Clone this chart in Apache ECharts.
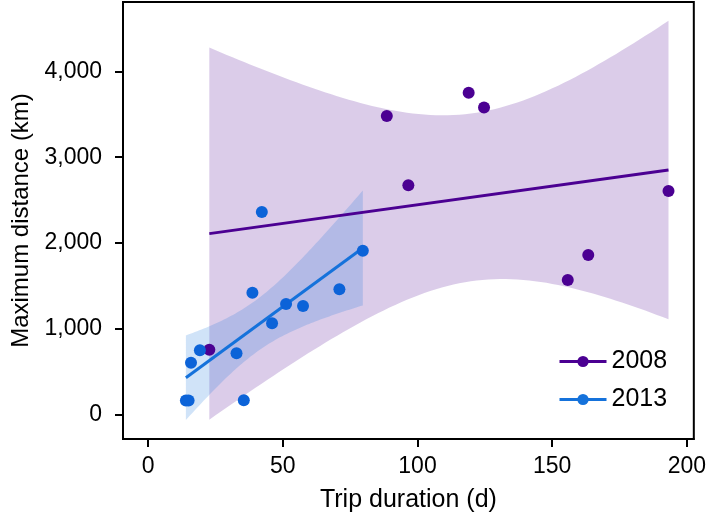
<!DOCTYPE html>
<html>
<head>
<meta charset="utf-8">
<script src="https://cdn.jsdelivr.net/npm/echarts@6/dist/echarts.min.js"></script>
<style>
  html, body { margin: 0; padding: 0; background: #fff; }
  #chart { width: 709px; height: 523px; }
</style>
</head>
<body>
<div id="chart"></div>
<script>
// ---- data ----
const seriesNames = ['2008', '2013'];
const dur2008 = [22.7, 88.6, 96.6, 119.0, 124.7, 155.8, 163.4, 193.2];
const dist2008 = [758, 3480, 2674, 3752, 3578, 1570, 1860, 2605];
const dur2013 = [14.0, 15.0, 15.9, 19.2, 32.8, 35.5, 38.7, 42.2, 46.0, 51.2, 57.5, 71.0, 79.7];
const dist2013 = [166, 166, 605, 752, 715, 168, 1420, 2362, 1066, 1291, 1267, 1461, 1909];
const xTicks = [0, 50, 100, 150, 200];
const yTicks = [0, 1000, 2000, 3000, 4000];
const xTitle = 'Trip duration (d)';
const yTitle = 'Maximum distance (km)';

// ---- linear fit with 95% confidence band (as geom_smooth(method = "lm")) ----
const T975 = {4: 2.7764, 5: 2.5706, 6: 2.4469, 7: 2.3646, 8: 2.3060, 9: 2.2622, 10: 2.2281, 11: 2.2010, 12: 2.1788, 13: 2.1604};
function lmFit(xs, ys) {
  const n = xs.length;
  const mx = xs.reduce((a, b) => a + b, 0) / n;
  const my = ys.reduce((a, b) => a + b, 0) / n;
  let sxx = 0, sxy = 0;
  for (let i = 0; i < n; i++) { sxx += (xs[i] - mx) ** 2; sxy += (xs[i] - mx) * (ys[i] - my); }
  const b = sxy / sxx, a = my - b * mx;
  let sse = 0;
  for (let i = 0; i < n; i++) sse += (ys[i] - a - b * xs[i]) ** 2;
  const s = Math.sqrt(sse / (n - 2));
  const t = T975[n - 2];
  const x0 = Math.min(...xs), x1 = Math.max(...xs);
  const line = [[x0, a + b * x0], [x1, a + b * x1]];
  const upper = [], lower = [];
  const steps = 80;
  for (let k = 0; k < steps; k++) {
    const x = x0 + (x1 - x0) * k / (steps - 1);
    const yh = a + b * x;
    const se = s * Math.sqrt(1 / n + (x - mx) ** 2 / sxx);
    upper.push([x, yh + t * se]);
    lower.push([x, yh - t * se]);
  }
  return { line, band: upper.concat(lower.reverse()) };
}
const fit2008 = lmFit(dur2008, dist2008);
const fit2013 = lmFit(dur2013, dist2013);

const colPurple = '#4B0092';
const colBlueLine = '#1572DB';
const colBlueDot = '#0C63D8';
const FONT = 'Liberation Sans, Arial, Helvetica, sans-serif';

function bandSeries(band, color) {
  return {
    type: 'custom',
    coordinateSystem: 'cartesian2d',
    silent: true,
    data: band,
    encode: { x: 0, y: 1 },
    renderItem: function (params, api) {
      if (params.dataIndex !== 0) return null;
      const pts = band.map(p => api.coord(p));
      return { type: 'polygon', shape: { points: pts }, style: { fill: color, opacity: 0.2 } };
    },
    z: 1
  };
}

const chart = echarts.init(document.getElementById('chart'), null, { renderer: 'canvas' });
chart.setOption({
  animation: false,
  backgroundColor: '#ffffff',
  grid: { left: 123, right: 13, top: 2, bottom: 84, show: true, borderColor: '#000', borderWidth: 2, backgroundColor: 'transparent' },
  xAxis: {
    type: 'value', min: -9.35, max: 202.6,
    name: xTitle, nameLocation: 'middle', nameGap: 49,
    nameTextStyle: { fontFamily: FONT, fontSize: 25, color: '#000' },
    axisLine: { show: true, onZero: false, lineStyle: { color: '#000', width: 2 } },
    axisTick: { show: true, length: 8, lineStyle: { color: '#000', width: 2 }, customValues: xTicks },
    axisLabel: { fontFamily: FONT, fontSize: 23, color: '#000', margin: 16, customValues: xTicks },
    splitLine: { show: false }
  },
  yAxis: {
    type: 'value', min: -283, max: 4808,
    name: yTitle, nameLocation: 'middle', nameGap: 90, nameRotate: 90,
    nameTextStyle: { fontFamily: FONT, fontSize: 24, color: '#000' },
    axisLine: { show: true, onZero: false, lineStyle: { color: '#000', width: 2 } },
    axisTick: { show: true, length: 8, lineStyle: { color: '#000', width: 2 }, customValues: yTicks },
    axisLabel: { fontFamily: FONT, fontSize: 23, color: '#000', margin: 21, customValues: yTicks,
      formatter: v => Number(v).toLocaleString('en-US') },
    splitLine: { show: false }
  },
  legend: {
    orient: 'vertical', left: 553, top: 344, itemGap: 13,
    itemWidth: 47, itemHeight: 14,
    data: seriesNames,
    lineStyle: { width: 3 },
    textStyle: { fontFamily: FONT, fontSize: 25, color: '#000' }
  },
  series: [
    bandSeries(fit2008.band, colPurple),
    bandSeries(fit2013.band, colBlueLine),
    {
      name: seriesNames[0], type: 'line', data: fit2008.line, showSymbol: false,
      symbol: 'circle', symbolSize: 11,
      lineStyle: { color: colPurple, width: 3 }, itemStyle: { color: colPurple }, z: 3
    },
    {
      name: seriesNames[1], type: 'line', data: fit2013.line, showSymbol: false,
      symbol: 'circle', symbolSize: 11,
      lineStyle: { color: colBlueLine, width: 3 }, itemStyle: { color: colBlueLine }, z: 3
    },
    {
      name: seriesNames[0], type: 'scatter', symbol: 'circle', symbolSize: 12,
      data: dur2008.map((x, i) => [x, dist2008[i]]),
      itemStyle: { color: colPurple, opacity: 1 }, z: 4
    },
    {
      name: seriesNames[1], type: 'scatter', symbol: 'circle', symbolSize: 12,
      data: dur2013.map((x, i) => [x, dist2013[i]]),
      itemStyle: { color: colBlueDot, opacity: 1 }, z: 4
    }
  ]
});
</script>
</body>
</html>
